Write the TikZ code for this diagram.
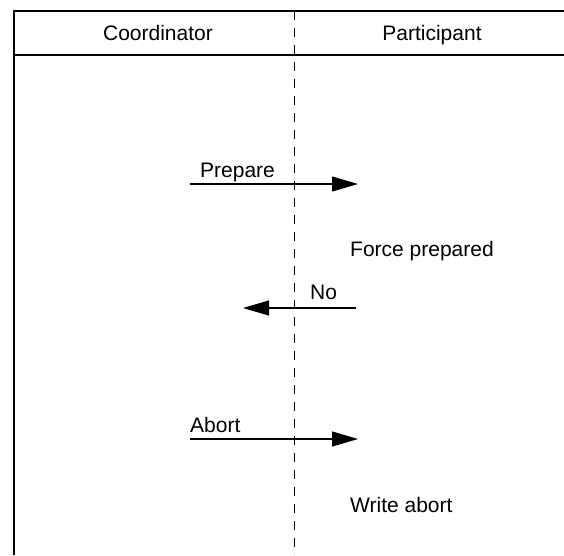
\documentclass[tikz,border=0pt]{standalone}
\usepackage{fontspec}
\setmainfont{Liberation Sans}
\usetikzlibrary{arrows.meta, positioning}

\begin{document}
\begin{tikzpicture}[
    x=1pt, y=-1pt,
    every node/.style={font=\fontsize{21}{25}\selectfont, inner sep=0pt},
    lane/.style={anchor=base},
    note/.style={anchor=base west},
    msg/.style={-{Triangle[length=26pt, width=15pt]}, line width=1.2pt},
    frame/.style={line width=1.4pt},
    divider/.style={line width=1pt, dash pattern=on 9pt off 8pt}
]
\useasboundingbox (0,0) rectangle (564,555);
% Frame and header
\coordinate (bl) at (14,555);
\coordinate (tl) at (14,11);
\coordinate (tr) at (564,11);
\coordinate (hl) at (14,55);
\coordinate (hr) at (564,55);
\draw[frame] (bl) -- (tl) -- (tr);
\draw[frame] (hl) -- (hr);
\coordinate (dtop) at (294,11);
\coordinate (dbot) at (294,555);
\draw[divider] (dtop) -- (dbot);
\node[lane] (coord) at (158,40) {Coordinator};
\node[lane] (part) at (432,40) {Participant};
% Messages
\coordinate (prepS) at (190,184);
\coordinate (prepE) at (358,184);
\draw[msg] (prepS) -- (prepE);
\node[note] (prep) at (200,177) {Prepare};
\node[note] (force) at (350,256) {Force prepared};
\coordinate (noS) at (356,308);
\coordinate (noE) at (243,308);
\draw[msg] (noS) -- (noE);
\node[note] (no) at (310,299) {No};
\coordinate (abS) at (190,439);
\coordinate (abE) at (358,439);
\draw[msg] (abS) -- (abE);
\node[note] (abort) at (190,432) {Abort};
\node[note] (write) at (350,512) {Write abort};
\end{tikzpicture}
\end{document}
